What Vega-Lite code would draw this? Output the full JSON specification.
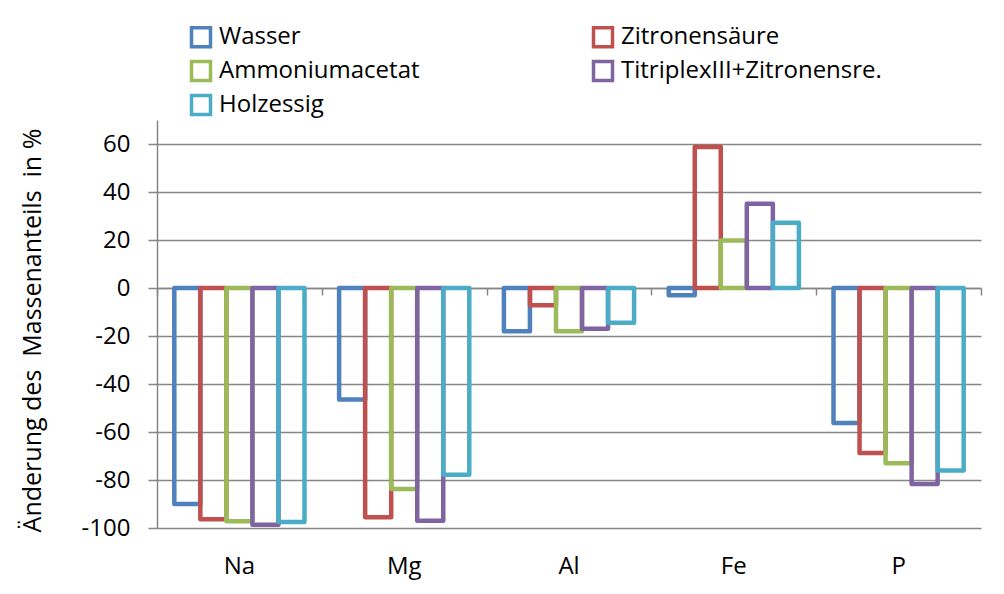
{
  "$schema": "https://vega.github.io/schema/vega-lite/v6.json",
  "width": 824,
  "height": 408,
  "autosize": {"type": "none"},
  "padding": {"left": 157, "top": 120, "right": 23, "bottom": 66},
  "background": "white",
  "config": {
    "view": {"stroke": null},
    "font": "Open Sans"
  },
  "data": {
    "values": [
      {"element": "Na", "mittel": "Wasser", "wert": -90.0},
      {"element": "Na", "mittel": "Zitronensäure", "wert": -96.4},
      {"element": "Na", "mittel": "Ammoniumacetat", "wert": -97.2},
      {"element": "Na", "mittel": "TitriplexIII+Zitronensre.", "wert": -98.6},
      {"element": "Na", "mittel": "Holzessig", "wert": -97.5},
      {"element": "Mg", "mittel": "Wasser", "wert": -46.5},
      {"element": "Mg", "mittel": "Zitronensäure", "wert": -95.5},
      {"element": "Mg", "mittel": "Ammoniumacetat", "wert": -83.7},
      {"element": "Mg", "mittel": "TitriplexIII+Zitronensre.", "wert": -97.0},
      {"element": "Mg", "mittel": "Holzessig", "wert": -77.8},
      {"element": "Al", "mittel": "Wasser", "wert": -18.0},
      {"element": "Al", "mittel": "Zitronensäure", "wert": -7.2},
      {"element": "Al", "mittel": "Ammoniumacetat", "wert": -18.0},
      {"element": "Al", "mittel": "TitriplexIII+Zitronensre.", "wert": -17.0},
      {"element": "Al", "mittel": "Holzessig", "wert": -14.5},
      {"element": "Fe", "mittel": "Wasser", "wert": -3.0},
      {"element": "Fe", "mittel": "Zitronensäure", "wert": 58.7},
      {"element": "Fe", "mittel": "Ammoniumacetat", "wert": 19.8},
      {"element": "Fe", "mittel": "TitriplexIII+Zitronensre.", "wert": 35.1},
      {"element": "Fe", "mittel": "Holzessig", "wert": 27.2},
      {"element": "P", "mittel": "Wasser", "wert": -56.2},
      {"element": "P", "mittel": "Zitronensäure", "wert": -68.7},
      {"element": "P", "mittel": "Ammoniumacetat", "wert": -73.0},
      {"element": "P", "mittel": "TitriplexIII+Zitronensre.", "wert": -81.7},
      {"element": "P", "mittel": "Holzessig", "wert": -76.0}
    ]
  },
  "resolve": {"scale": {"x": "independent"}, "axis": {"x": "independent"}},
  "layer": [
    {
      "mark": {"type": "bar", "filled": false, "strokeWidth": 4.5, "strokeJoin": "round"},
      "encoding": {
        "x": {
          "field": "element",
          "type": "nominal",
          "sort": ["Na", "Mg", "Al", "Fe", "P"],
          "scale": {"paddingInner": 0.21, "paddingOuter": 0.105},
          "axis": {
            "title": null,
            "orient": "bottom",
            "domain": false,
            "ticks": false,
            "labelAngle": 0,
            "labelFontSize": 24,
            "labelColor": "black",
            "labelPadding": 26
          }
        },
        "xOffset": {
          "field": "mittel",
          "type": "nominal",
          "sort": ["Wasser", "Zitronensäure", "Ammoniumacetat", "TitriplexIII+Zitronensre.", "Holzessig"],
          "scale": {"paddingInner": 0, "paddingOuter": 0}
        },
        "y": {
          "field": "wert",
          "type": "quantitative",
          "scale": {"domain": [-100, 70], "nice": false, "zero": true},
          "axis": {
            "values": [-100, -80, -60, -40, -20, 0, 20, 40, 60],
            "labelExpr": "replace(datum.label, '−', '-')",
            "grid": true,
            "gridColor": "#868686",
            "gridWidth": 1.5,
            "domainColor": "#868686",
            "domainWidth": 1.5,
            "tickColor": "#868686",
            "tickWidth": 1.5,
            "tickSize": 9,
            "labelFontSize": 24,
            "labelColor": "black",
            "labelPadding": 18,
            "title": "Änderung des \u00a0Massenanteils \u00a0in %",
            "titleFontSize": 25,
            "titleFontWeight": "normal",
            "titleColor": "black",
            "titleAngle": -90,
            "titleBaseline": "middle",
            "titleAlign": "center",
            "titleX": -125,
            "titleY": 210
          }
        },
        "color": {
          "field": "mittel",
          "type": "nominal",
          "scale": {
            "domain": ["Wasser", "Ammoniumacetat", "Holzessig", "Zitronensäure", "TitriplexIII+Zitronensre."],
            "range": ["#4F81BD", "#9BBB59", "#4BACC6", "#C0504D", "#8064A2"]
          },
          "legend": {
            "title": null,
            "orient": "none",
            "legendX": 32,
            "legendY": -95,
            "columns": 2,
            "padding": 0,
            "symbolType": "square",
            "symbolSize": 361,
            "symbolStrokeWidth": 3.5,
            "labelFontSize": 24,
            "labelColor": "black",
            "labelOffset": 6,
            "labelLimit": 400,
            "rowPadding": 0,
            "columnPadding": 166
          }
        }
      }
    },
    {
      "mark": {"type": "point", "opacity": 0},
      "encoding": {
        "x": {
          "field": "element",
          "type": "nominal",
          "sort": ["Na", "Mg", "Al", "Fe", "P"],
          "scale": {"paddingInner": 0, "paddingOuter": 0},
          "axis": {
            "title": null,
            "orient": "bottom",
            "offset": -240,
            "labels": false,
            "domain": true,
            "domainColor": "#868686",
            "domainWidth": 1.5,
            "ticks": true,
            "tickBand": "extent",
            "tickColor": "#868686",
            "tickWidth": 1.5,
            "tickSize": 7,
            "grid": false
          }
        },
        "y": {"datum": 0, "type": "quantitative"}
      }
    }
  ]
}
